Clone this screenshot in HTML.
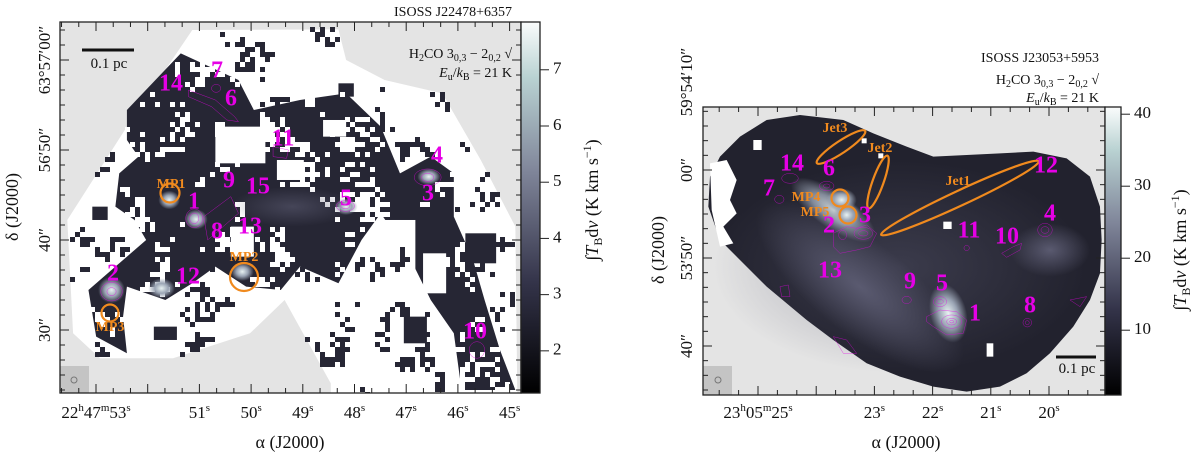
<!DOCTYPE html>
<html><head><meta charset="utf-8"><style>
html,body{margin:0;padding:0;background:#fff;width:1200px;height:456px;overflow:hidden}
svg text{font-family:"Liberation Serif",serif;fill:#111}
.mag{fill:#e600e6;font-weight:bold;font-size:24px}
.org{fill:#f08a1e;font-weight:bold;font-size:14px}
.tk{font-size:17px}
</style></head><body>
<svg id="fig" width="1200" height="456" viewBox="0 0 1200 456" xmlns="http://www.w3.org/2000/svg">
<defs>
<linearGradient id="cmap" x1="0" y1="1" x2="0" y2="0">
<stop offset="0" stop-color="#000"/><stop offset="0.3" stop-color="#34344a"/><stop offset="0.6" stop-color="#80869a"/><stop offset="0.85" stop-color="#b9d2d2"/><stop offset="1" stop-color="#fafcfc"/>
</linearGradient>
<radialGradient id="glow"><stop offset="0" stop-color="#e8f2f2"/><stop offset="0.5" stop-color="#9aa4b4"/><stop offset="1" stop-color="#9aa4b4" stop-opacity="0"/></radialGradient>
<radialGradient id="glow2"><stop offset="0" stop-color="#5a5a70"/><stop offset="1" stop-color="#5a5a70" stop-opacity="0"/></radialGradient>
<clipPath id="clipL"><rect x="60" y="22" width="461" height="371"/></clipPath>
<clipPath id="clipR"><rect x="703" y="107" width="402" height="288"/></clipPath>
</defs>

<!-- LEFT PANEL -->
<g clip-path="url(#clipL)">
<rect x="60" y="22" width="461" height="371" fill="#e4e4e4"/>
<g transform="scale(0.3846,0.3333)">
<path id="covL" fill="#fff" d="M500,90 L880,88 L900,180 L1000,240 L1150,280 L1250,480 L1340,680 L1345,1185 L860,1185 L860,1150 L740,900 L650,1000 L450,1075 L260,1075 L190,1000 L175,660 L330,380 Z"/>
<path id="cloudL" fill="#262634" d="M330,330 L470,160 L620,240 L660,330 L780,300 L900,280 L990,380 L1040,520 L1120,470 L1180,520 L1180,650 L1230,780 L1260,900 L1300,1050 L1340,1170 L1200,1170 L1180,1000 L1120,900 L1060,760 L990,640 L940,720 L880,850 L780,800 L730,870 L640,860 L560,800 L500,850 L430,900 L330,860 L320,950 L330,1060 L250,1010 L230,870 L300,800 L380,720 L350,660 L300,620 L310,520 L360,470 L330,420 Z"/>
<g fill="#fff">
<rect x="560" y="380" width="130" height="110"/><rect x="720" y="480" width="70" height="60"/><rect x="600" y="680" width="60" height="90"/>
<rect x="840" y="360" width="60" height="50"/><rect x="990" y="660" width="90" height="200"/>
<rect x="760" y="880" width="90" height="40"/><rect x="1100" y="760" width="60" height="120"/>
</g>
<g fill="#262634"><rect x="1210" y="700" width="80" height="90"/><rect x="1050" y="950" width="60" height="80"/><rect x="880" y="250" width="40" height="40"/><rect x="240" y="620" width="40" height="40"/><rect x="400" y="980" width="60" height="40"/></g>
</g>
<g id="speckL"></g>
<g transform="scale(0.3846,0.3333)">
<ellipse cx="760" cy="620" rx="160" ry="60" fill="url(#glow2)" opacity="0.6"/>
<ellipse cx="510" cy="658" rx="30" ry="30" fill="url(#glow)"/>
<ellipse cx="900" cy="620" rx="30" ry="25" fill="url(#glow)"/>
<ellipse cx="290" cy="870" rx="35" ry="40" fill="url(#glow)"/>
<ellipse cx="440" cy="600" rx="28" ry="28" fill="url(#glow)"/>
<ellipse cx="630" cy="815" rx="30" ry="28" fill="url(#glow)"/>
<ellipse cx="420" cy="865" rx="35" ry="30" fill="url(#glow)"/>
<ellipse cx="1115" cy="530" rx="30" ry="25" fill="url(#glow)"/>
<g fill="none" stroke="#e600e6" stroke-width="1" vector-effect="non-scaling-stroke">
<ellipse cx="505" cy="655" rx="22" ry="28"/><ellipse cx="505" cy="655" rx="12" ry="16"/>
<ellipse cx="898" cy="618" rx="24" ry="16"/><ellipse cx="898" cy="618" rx="12" ry="8"/>
<ellipse cx="1112" cy="532" rx="35" ry="25"/><ellipse cx="1112" cy="532" rx="16" ry="12"/>
<ellipse cx="290" cy="875" rx="28" ry="28"/><ellipse cx="290" cy="875" rx="12" ry="12"/>
<ellipse cx="562" cy="265" rx="12" ry="12"/><path d="M490,270 L560,300 L610,350 L620,365 L590,360 L550,320 L490,290 Z"/>
<path d="M710,440 L750,450 L745,475 L710,470 Z"/><path d="M530,650 L600,590 L620,640 L560,700 L540,720 Z"/>
<ellipse cx="1240" cy="1050" rx="20" ry="25"/>
</g>
</g>
<g fill="none" stroke="#f08a1e" stroke-width="2.2">
<circle cx="170" cy="193" r="9.5"/>
<circle cx="244" cy="277" r="14"/>
<circle cx="110" cy="313" r="8.5"/>
</g>
<rect x="60" y="366" width="29" height="28" fill="#c4c4c4"/>
<ellipse cx="74" cy="380" rx="3" ry="3" fill="none" stroke="#777"/>
</g>
<g id="ticksL" stroke="#222" stroke-width="1"></g>
<rect x="60" y="22" width="461" height="371" fill="none" stroke="#222" stroke-width="1.3"/>
<rect x="521" y="22" width="19" height="371" fill="url(#cmap)" stroke="#222" stroke-width="1.3"/>
<g id="cbL"></g>
<line x1="82" y1="50" x2="134" y2="50" stroke="#111" stroke-width="3"/>
<text x="109" y="68" font-size="15" text-anchor="middle">0.1 pc</text>
<text x="512" y="16" font-size="14" text-anchor="end">ISOSS J22478+6357</text>
<text x="512" y="58" font-size="14" text-anchor="end">H<tspan font-size="10" dy="3">2</tspan><tspan dy="-3">CO 3</tspan><tspan font-size="10" dy="3">0,3</tspan><tspan dy="-3"> − 2</tspan><tspan font-size="10" dy="3">0,2</tspan><tspan dy="-3"> √</tspan></text>
<text x="512" y="77" font-size="14" text-anchor="end"><tspan font-style="italic">E</tspan><tspan font-size="10" dy="3">u</tspan><tspan dy="-3">/</tspan><tspan font-style="italic">k</tspan><tspan font-size="10" dy="3">B</tspan><tspan dy="-3"> = 21 K</tspan></text>
<g id="labL"></g>
<text x="290" y="448" font-size="18" text-anchor="middle">α (J2000)</text>
<text transform="translate(18,207) rotate(-90)" font-size="18" text-anchor="middle">δ (J2000)</text>
<text transform="translate(598,200) rotate(-90)" font-size="18" text-anchor="middle">∫<tspan font-style="italic">T</tspan><tspan font-size="12" dy="4">B</tspan><tspan dy="-4">d</tspan><tspan font-style="italic">v</tspan> (K km s<tspan font-size="12" dy="-7">−1</tspan><tspan dy="7">)</tspan></text>

<!-- RIGHT PANEL -->
<g clip-path="url(#clipR)">
<rect x="703" y="107" width="402" height="288" fill="#e4e4e4"/>
<g transform="translate(700,100) scale(0.3333)">
<path fill="#22222e" d="M60,170 L120,110 L200,60 L300,45 L430,60 L520,100 L620,140 L700,170 L800,165 L900,160 L1000,155 L1100,175 L1170,230 L1200,320 L1205,420 L1200,520 L1170,600 L1120,680 L1050,760 L980,820 L900,860 L800,875 L700,860 L600,830 L500,790 L400,720 L320,660 L200,560 L120,480 L60,420 L25,320 L30,230 Z"/>
<ellipse cx="600" cy="500" rx="560" ry="320" fill="url(#glow2)" opacity="0.45"/>
<ellipse cx="480" cy="560" rx="380" ry="140" transform="rotate(38 480 560)" fill="url(#glow2)"/>
<ellipse cx="1050" cy="450" rx="120" ry="80" fill="url(#glow2)"/>
<ellipse cx="400" cy="330" rx="150" ry="55" transform="rotate(35 400 330)" fill="url(#glow)" opacity="0.8"/>
<ellipse cx="425" cy="300" rx="45" ry="35" fill="url(#glow)"/>
<ellipse cx="440" cy="345" rx="40" ry="35" fill="url(#glow)"/>
<ellipse cx="745" cy="640" rx="55" ry="90" transform="rotate(-15 745 640)" fill="url(#glow)"/>
<g fill="#fff">
<path d="M30,190 L80,180 L110,240 L90,300 L110,340 L70,380 L100,430 L60,440 L35,330 Z"/>
<rect x="730" y="365" width="25" height="22"/><rect x="160" y="120" width="25" height="30"/><rect x="860" y="730" width="20" height="40"/><rect x="485" y="115" width="15" height="15"/><rect x="535" y="160" width="15" height="15"/>
</g>
<g fill="none" stroke="#e600e6" stroke-width="1" vector-effect="non-scaling-stroke">
<ellipse cx="380" cy="258" rx="22" ry="14"/><ellipse cx="380" cy="258" rx="10" ry="6"/>
<path d="M400,400 L440,380 L470,385 L500,375 L530,400 L510,440 L470,450 L420,460 L400,440 Z"/>
<ellipse cx="490" cy="400" rx="28" ry="18"/><ellipse cx="490" cy="400" rx="14" ry="8"/><ellipse cx="428" cy="405" rx="12" ry="14"/>
<ellipse cx="270" cy="235" rx="25" ry="15"/><ellipse cx="238" cy="298" rx="14" ry="12"/>
<ellipse cx="1035" cy="390" rx="22" ry="20"/><ellipse cx="1035" cy="390" rx="12" ry="10"/>
<ellipse cx="720" cy="605" rx="20" ry="15"/><ellipse cx="720" cy="605" rx="10" ry="7"/>
<path d="M680,650 L720,630 L770,635 L800,660 L790,700 L740,705 L700,680 L680,665 Z"/>
<ellipse cx="755" cy="665" rx="30" ry="20"/><ellipse cx="755" cy="665" rx="15" ry="10"/><ellipse cx="755" cy="665" rx="6" ry="4"/>
<ellipse cx="620" cy="600" rx="14" ry="11"/><ellipse cx="982" cy="668" rx="13" ry="13"/><ellipse cx="982" cy="668" rx="6" ry="6"/>
<ellipse cx="800" cy="444" rx="8" ry="8"/><path d="M905,460 L940,440 L965,430 L960,450 L920,472 Z"/>
<path d="M240,560 L265,555 L270,590 L245,590 Z"/><path d="M400,710 L440,720 L470,760 L430,760 Z"/>
<path d="M1110,600 L1160,590 L1140,620 Z"/>
</g>
</g>
<g fill="none" stroke="#f08a1e" stroke-width="2.2">
<ellipse cx="841" cy="147" rx="29" ry="6" transform="rotate(-33.7 841 147)"/>
<ellipse cx="878" cy="182" rx="28" ry="5.5" transform="rotate(109.7 878 182)"/>
<ellipse cx="960" cy="198" rx="87" ry="7.5" transform="rotate(-25 960 198)"/>
<circle cx="840" cy="198" r="8.5"/>
<circle cx="848" cy="215" r="8.5"/>
</g>
<rect x="703" y="366" width="29" height="29" fill="#c4c4c4"/>
<ellipse cx="718" cy="380" rx="3" ry="3" fill="none" stroke="#777"/>
<line x1="1056" y1="357" x2="1096" y2="357" stroke="#111" stroke-width="3"/>
<text x="1077" y="373" font-size="15" text-anchor="middle">0.1 pc</text>
</g>
<g id="ticksR" stroke="#222" stroke-width="1"></g>
<rect x="703" y="107" width="402" height="288" fill="none" stroke="#222" stroke-width="1.3"/>
<rect x="1105" y="107" width="16" height="288" fill="url(#cmap)" stroke="#222" stroke-width="1.3"/>
<g id="cbR"></g>
<text x="1099" y="62" font-size="14" text-anchor="end">ISOSS J23053+5953</text>
<text x="1099" y="84" font-size="14" text-anchor="end">H<tspan font-size="10" dy="3">2</tspan><tspan dy="-3">CO 3</tspan><tspan font-size="10" dy="3">0,3</tspan><tspan dy="-3"> − 2</tspan><tspan font-size="10" dy="3">0,2</tspan><tspan dy="-3"> √</tspan></text>
<text x="1099" y="102" font-size="14" text-anchor="end"><tspan font-style="italic">E</tspan><tspan font-size="10" dy="3">u</tspan><tspan dy="-3">/</tspan><tspan font-style="italic">k</tspan><tspan font-size="10" dy="3">B</tspan><tspan dy="-3"> = 21 K</tspan></text>
<g id="labR"></g>
<text x="906" y="448" font-size="18" text-anchor="middle">α (J2000)</text>
<text transform="translate(664,250) rotate(-90)" font-size="18" text-anchor="middle">δ (J2000)</text>
<text transform="translate(1186,250) rotate(-90)" font-size="18" text-anchor="middle">∫<tspan font-style="italic">T</tspan><tspan font-size="12" dy="4">B</tspan><tspan dy="-4">d</tspan><tspan font-style="italic">v</tspan> (K km s<tspan font-size="12" dy="-7">−1</tspan><tspan dy="7">)</tspan></text>
</svg>
<script>
// Colorbar data
const cbLTicks = [2, 3, 4, 5, 6, 7];
const cbLRange = [1.25, 7.85];
const cbRTicks = [10, 20, 30, 40];
const cbRRange = [1, 41];
// Axis tick labels
const xTicksL = ["22h47m53s", "51s", "50s", "49s", "48s", "47s", "46s", "45s"];
const xSecL = [53, 51, 50, 49, 48, 47, 46, 45];
const yTicksL = ["63°57′00″", "56′50″", "40″", "30″"];
const yArcL = [60, 50, 40, 30];
const xTicksR = ["23h05m25s", "23s", "22s", "21s", "20s"];
const xSecR = [25, 23, 22, 21, 20];
const yTicksR = ["59°54′10″", "00″", "53′50″", "40″"];
const yArcR = [70, 60, 50, 40];
// Source labels
const srcL = ["14","7","6","11","4","3","9","15","1","5","8","13","2","12","10"];
const srcLx = [171,217,231,283,437,428,229,258,194,346,217,250,113,188,475];
const srcLy = [85,72,100,140,157,195,182,188,203,200,233,228,275,278,333];
const srcR = ["14","6","7","2","3","13","11","10","4","12","9","5","1","8"];
const srcRx = [792,829,769,829,865,830,969,1007,1050,1046,910,942,975,1030];
const srcRy = [165,170,190,227,217,272,232,238,215,167,283,285,315,307];
const mpNames = ["MP1","MP2","MP3","MP4","MP5","Jet3","Jet2","Jet1"];
const mpX = [171,244,110,806,815,835,880,958];
const mpY = [185,258,328,198,213,129,149,182];

const NS = "http://www.w3.org/2000/svg";
function mk(tag, attrs, parent) { const e = document.createElementNS(NS, tag); for (const k in attrs) e.setAttribute(k, attrs[k]); parent.appendChild(e); return e; }
function ytext(g, x, y, s, anchor) {
  const t = mk("text", {x: x, y: y, "text-anchor": anchor || "start", "dominant-baseline": "middle"}, g);
  t.setAttribute("class", "tk");
  t.textContent = s; return t;
}
function superText(g, x, y, s) {
  const t = mk("text", {x: x, y: y, "text-anchor": "middle"}, g);
  t.setAttribute("class", "tk");
  const parts = s.match(/\d+|[hms]/g);
  parts.forEach(p => { const ts = mk("tspan", {}, t); if (/[hms]/.test(p)) { ts.setAttribute("font-size", "11"); ts.setAttribute("dy", "-7"); } else if (t.childNodes.length > 1) { ts.setAttribute("dy", "7"); } ts.textContent = p; });
  return t;
}
// Texture (decorative speckle of the left map)
(function () {
  let seed = 12345;
  const rnd = () => { seed = (seed * 1103515245 + 12345) & 0x7fffffff; return seed / 0x7fffffff; };
  const cov = document.getElementById("covL"), cloud = document.getElementById("cloudL");
  const g = document.getElementById("speckL");
  const C = 20, cw = 24, ch = 20, coarse = [];
  for (let i = 0; i <= cw; i++) { coarse.push([]); for (let j = 0; j <= ch; j++) coarse[i].push(rnd()); }
  const cz = (x, y) => { const fx = (x - 60) / C, fy = (y - 22) / C; const i = Math.min(cw - 1, Math.floor(fx)), j = Math.min(ch - 1, Math.floor(fy)); const a = fx - i, b = fy - j;
    return coarse[i][j] * (1 - a) * (1 - b) + coarse[i + 1][j] * a * (1 - b) + coarse[i][j + 1] * (1 - a) * b + coarse[i + 1][j + 1] * a * b; };
  let dW = "", dD = "";
  for (let x = 60; x < 521; x += 5) for (let y = 22; y < 393; y += 5) {
    const p = new DOMPoint((x + 2.5) / 0.3846, (y + 2.5) / 0.3333);
    if (!cov.isPointInFill(p)) continue;
    const n = 0.65 * cz(x, y) + 0.35 * rnd();
    if (cloud.isPointInFill(p)) { if (n > 0.68) dW += "M" + x + "," + y + "h5v5h-5z"; }
    else { if (n < 0.3) dD += "M" + x + "," + y + "h5v5h-5z"; }
  }
  mk("path", {d: dW, fill: "#fff"}, g);
  mk("path", {d: dD, fill: "#262634"}, g);
})();
// Colorbars
function colorbar(gid, ticks, range, x, y0, y1, name) {
  const g = document.getElementById(gid);
  const sc = v => y1 - (v - range[0]) / (range[1] - range[0]) * (y1 - y0);
  ticks.forEach(v => {
    const y = sc(v);
    const l = mk("line", {x1: x, y1: y, x2: x + 9, y2: y, stroke: "#222"}, g);
    
    
    const t = ytext(g, x + 13, y, String(v));
    
    
  });
}
colorbar("cbL", cbLTicks, cbLRange, 540, 22, 393, "left-colorbar");
colorbar("cbR", cbRTicks, cbRRange, 1121, 107, 395, "right-colorbar");

// Axes
function axes(gid, labG, fx, x0, x1, y0, y1, xs, xl, fy, ys, yl, ylabX, name) {
  const g = document.getElementById(gid);
  const lg = document.getElementById(labG);
  for (let s = xs[0] + 1; s >= xs[xs.length - 1] - 1; s -= 1 / 3) {
    const x = fx(s); if (x < x0 || x > x1) continue;
    const major = Math.abs(s - Math.round(s)) < 0.01;
    const len = major ? 9 : 5;
    mk("line", {x1: x, y1: y1, x2: x, y2: y1 - len}, g);
    mk("line", {x1: x, y1: y0, x2: x, y2: y0 + len}, g);
  }
  xs.forEach((s, i) => { const t = superText(lg, fx(s), 418, xl[i]);   });
  for (let a = ys[0] + 10; a >= ys[ys.length - 1] - 10; a -= 10 / 6) {
    const y = fy(a); if (y < y0 || y > y1) continue;
    const m = ((a % 10) + 10) % 10;
    const major = m < 0.01 || m > 9.99;
    const len = major ? 9 : 5;
    mk("line", {x1: x0, y1: y, x2: x0 + len, y2: y}, g);
    mk("line", {x1: x1, y1: y, x2: x1 - len, y2: y}, g);
  }
  ys.forEach((a, i) => {
    const y = fy(a);
    const t = mk("text", {transform: "translate(" + ylabX + "," + y + ") rotate(-90)", "text-anchor": "middle"}, lg);
    t.setAttribute("class", "tk");
    t.textContent = yl[i];
    
    
  });
}
axes("ticksL", "labL", s => 96 + (53 - s) * 51.7, 60, 521, 22, 393, xSecL, xTicksL, a => 60 + (60 - a) * 9.0, yArcL, yTicksL, 50, "left");
axes("ticksR", "labR", s => 758 + (25 - s) * 58.2, 703, 1105, 107, 395, xSecR, xTicksR, a => 82 + (70 - a) * 8.8, yArcR, yTicksR, 692, "right");

// Source labels
function labels(names, xs, ys, cls, prefix) {
  const g = document.getElementById("fig");
  names.forEach((n, i) => {
    const t = mk("text", {x: xs[i], y: ys[i], "text-anchor": "middle", "dominant-baseline": "middle"}, g);
    t.setAttribute("class", cls);
    
    
    t.textContent = n;
  });
}
labels(srcL, srcLx, srcLy, "mag", "left-source-label");
labels(srcR, srcRx, srcRy, "mag", "right-source-label");
labels(mpNames, mpX, mpY, "org", "marker-label");
</script>
</body></html>
